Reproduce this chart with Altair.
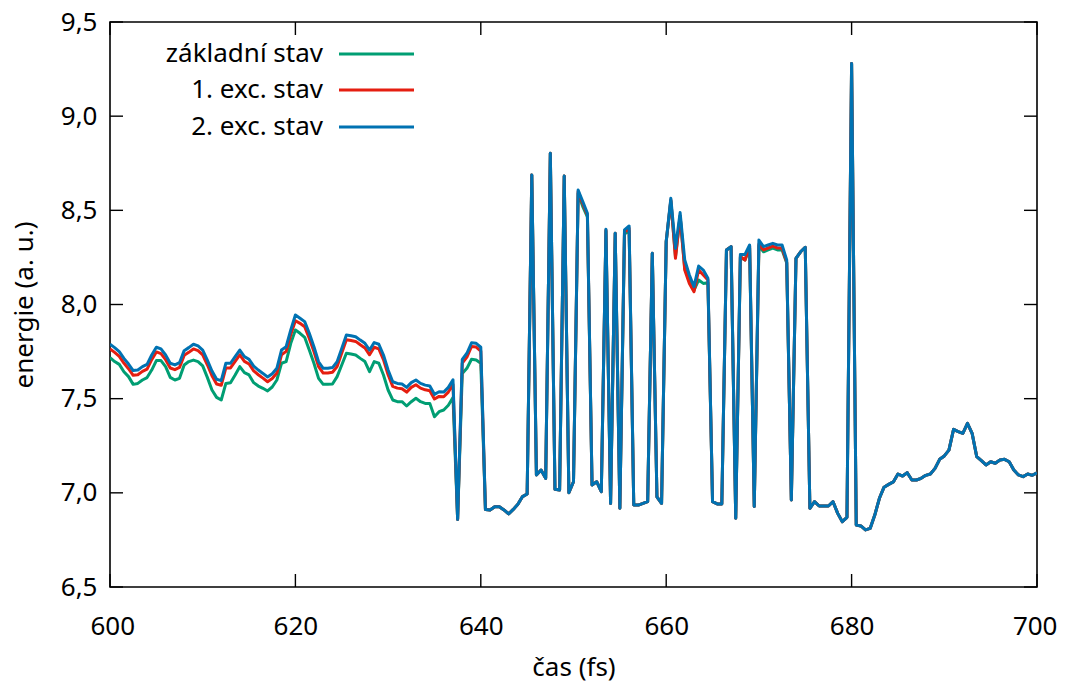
import numpy as np
import pandas as pd
import altair as alt

# time axis: 600 .. 700 fs, step 0.5 fs
times = [600 + 0.5 * i for i in range(201)]

# 2. exc. stav (blue)
blue = [
    7.789, 7.771, 7.750, 7.714, 7.684, 7.649, 7.652, 7.670, 7.682, 7.732,  # 600-604.5
    7.773, 7.764, 7.732, 7.688, 7.679, 7.691, 7.755, 7.771, 7.789, 7.780,  # 605-609.5
    7.758, 7.705, 7.647, 7.603, 7.596, 7.688, 7.688, 7.723, 7.758, 7.723,  # 610-614.5
    7.709, 7.673, 7.652, 7.634, 7.615, 7.632, 7.661, 7.758, 7.776, 7.865,  # 615-619.5
    7.944, 7.927, 7.909, 7.847, 7.776, 7.696, 7.661, 7.661, 7.665, 7.696,  # 620-624.5
    7.767, 7.838, 7.834, 7.829, 7.811, 7.794, 7.758, 7.798, 7.789, 7.732,  # 625-629.5
    7.652, 7.590, 7.581, 7.578, 7.560, 7.585, 7.599, 7.581, 7.572, 7.567,  # 630-634.5
    7.523, 7.537, 7.535, 7.560, 7.600, 6.859, 7.709, 7.741, 7.797, 7.794,  # 635-639.5
    7.773, 6.912, 6.909, 6.926, 6.926, 6.909, 6.888, 6.912, 6.939, 6.980,  # 640-644.5
    6.994, 8.688, 7.095, 7.121, 7.077, 8.803, 7.019, 7.015, 8.682, 7.001,  # 645-649.5
    7.059, 8.608, 8.546, 8.484, 7.042, 7.059, 7.006, 8.399, 6.944, 8.378,  # 650-654.5
    6.918, 8.396, 8.417, 6.935, 6.935, 6.944, 6.953, 8.272, 6.979, 6.944,  # 655-659.5
    8.334, 8.564, 8.298, 8.488, 8.236, 8.157, 8.095, 8.204, 8.183, 8.139,  # 660-664.5
    6.953, 6.941, 6.941, 8.289, 8.307, 6.865, 8.266, 8.266, 8.316, 6.927,  # 665-669.5
    8.342, 8.307, 8.316, 8.325, 8.316, 8.316, 8.236, 6.962, 8.245, 8.280,  # 670-674.5
    8.304, 6.918, 6.953, 6.930, 6.930, 6.930, 6.953, 6.891, 6.847, 6.870,  # 675-679.5
    9.280, 6.829, 6.824, 6.803, 6.811, 6.882, 6.971, 7.030, 7.045, 7.058,  # 680-684.5
    7.100, 7.089, 7.107, 7.068, 7.068, 7.077, 7.093, 7.100, 7.130, 7.178,  # 685-689.5
    7.196, 7.227, 7.337, 7.325, 7.316, 7.369, 7.316, 7.192, 7.171, 7.148,  # 690-694.5
    7.165, 7.157, 7.174, 7.178, 7.165, 7.121, 7.095, 7.086, 7.100, 7.093,  # 695-699.5
    7.107,                                                                 # 700
]

# 1. exc. stav (red), 600 .. 640 fs
red_early = [
    7.764, 7.746, 7.725, 7.689, 7.659, 7.624, 7.627, 7.645, 7.657, 7.707,
    7.748, 7.739, 7.707, 7.663, 7.654, 7.666, 7.730, 7.746, 7.764, 7.755,
    7.733, 7.680, 7.622, 7.578, 7.571, 7.663, 7.663, 7.698, 7.733, 7.698,
    7.684, 7.648, 7.627, 7.609, 7.590, 7.607, 7.636, 7.733, 7.751, 7.840,
    7.914, 7.900, 7.882, 7.820, 7.750, 7.670, 7.636, 7.636, 7.640, 7.671,
    7.742, 7.813, 7.809, 7.804, 7.786, 7.769, 7.733, 7.773, 7.764, 7.707,
    7.627, 7.565, 7.556, 7.553, 7.535, 7.560, 7.574, 7.556, 7.547, 7.542,
    7.498, 7.512, 7.510, 7.535, 7.575, 6.859, 7.689, 7.721, 7.777, 7.774,
    7.753,
]

# základní stav (green), 600 .. 640 fs
green_early = [
    7.718, 7.697, 7.682, 7.643, 7.617, 7.576, 7.581, 7.599, 7.612, 7.652,
    7.702, 7.702, 7.670, 7.613, 7.599, 7.608, 7.679, 7.697, 7.705, 7.697,
    7.674, 7.613, 7.546, 7.507, 7.493, 7.581, 7.585, 7.626, 7.670, 7.638,
    7.626, 7.585, 7.567, 7.555, 7.541, 7.562, 7.599, 7.688, 7.697, 7.794,
    7.865, 7.847, 7.826, 7.758, 7.688, 7.608, 7.576, 7.576, 7.578, 7.617,
    7.679, 7.741, 7.737, 7.732, 7.714, 7.697, 7.643, 7.697, 7.688, 7.626,
    7.546, 7.493, 7.484, 7.484, 7.461, 7.484, 7.502, 7.484, 7.475, 7.475,
    7.404, 7.431, 7.440, 7.465, 7.506, 6.859, 7.634, 7.661, 7.709, 7.705,
    7.688,
]

# after 640 fs the three states nearly coincide; points where they visibly differ
red_late_diff = {
    650.5: 8.600, 651.0: 8.535, 651.5: 8.475, 653.5: 8.395, 655.5: 8.385, 656.0: 8.405,
    660.5: 8.555, 661.0: 8.245, 661.5: 8.470, 662.0: 8.183, 662.5: 8.112, 663.0: 8.068,
    663.5: 8.183, 664.0: 8.157, 664.5: 8.130, 668.0: 8.255, 668.5: 8.236, 669.0: 8.310,
    670.0: 8.320, 670.5: 8.290, 671.0: 8.300, 671.5: 8.310, 672.0: 8.300, 672.5: 8.300,
    673.0: 8.225,
}
green_late_diff = {
    650.5: 8.590, 651.0: 8.520, 651.5: 8.465, 653.5: 8.390, 655.5: 8.375, 656.0: 8.390,
    660.5: 8.550, 661.0: 8.254, 661.5: 8.470, 662.0: 8.190, 662.5: 8.130, 663.0: 8.077,
    663.5: 8.130, 664.0: 8.112, 664.5: 8.115, 668.0: 8.250, 668.5: 8.236, 669.0: 8.300,
    670.0: 8.310, 670.5: 8.280, 671.0: 8.290, 671.5: 8.300, 672.0: 8.290, 672.5: 8.290,
    673.0: 8.220,
}

n_early = len(red_early)
red = red_early + [red_late_diff.get(t, b) for t, b in zip(times[n_early:], blue[n_early:])]
green = green_early + [green_late_diff.get(t, b) for t, b in zip(times[n_early:], blue[n_early:])]

series_names = ["základní stav", "1. exc. stav", "2. exc. stav"]
series_colors = ["#009e73", "#e51e10", "#0072b2"]
series_values = [green, red, blue]

x_ticks = [600, 620, 640, 660, 680, 700]
y_ticks = [6.5, 7.0, 7.5, 8.0, 8.5, 9.0, 9.5]

W, H = 927, 565
FONT = "Noto Sans"
FS = 26
LW = 3.0

xscale = alt.Scale(domain=[600, 700], nice=False, zero=False)
yscale = alt.Scale(domain=[6.5, 9.5], nice=False, zero=False)

x_axis = alt.Axis(values=x_ticks, ticks=False, domain=False, grid=False,
                  labelFlush=True, labelFlushOffset=20,
                  labelFont=FONT, labelFontSize=FS, labelColor="black",
                  labelPadding=26, titleFont=FONT, titleFontSize=FS,
                  titleFontWeight="normal", titleColor="black", titlePadding=15)
y_axis = alt.Axis(values=y_ticks, ticks=False, domain=False, grid=False, labelFlush=False,
                  labelFont=FONT, labelFontSize=FS, labelColor="black",
                  labelPadding=13,
                  labelExpr="replace(format(datum.value, '.1f'), '.', ',')",
                  titleFont=FONT, titleFontSize=FS, titleFontWeight="normal",
                  titleColor="black", titlePadding=23)

def xenc():
    return alt.X("t:Q", scale=xscale, title="čas (fs)", axis=x_axis)

def yenc():
    return alt.Y("e:Q", scale=yscale, title="energie (a. u.)", axis=y_axis)

layers = []
for name, col, vals in zip(series_names, series_colors, series_values):
    df = pd.DataFrame({"t": times, "e": vals})
    layers.append(
        alt.Chart(df).mark_line(color=col, strokeWidth=LW, strokeJoin="round", clip=True)
        .encode(x=xenc(), y=yenc())
    )

# inside ticks on all four sides (gnuplot style)
xt = pd.DataFrame({"t": x_ticks})
yt = pd.DataFrame({"e": y_ticks})
tick_len = 13
layers.append(alt.Chart(xt).mark_rule(color="black", strokeWidth=1.4).encode(
    x=xenc(), y=alt.value(H), y2=alt.value(H - tick_len)))
layers.append(alt.Chart(xt).mark_rule(color="black", strokeWidth=1.4).encode(
    x=xenc(), y=alt.value(0), y2=alt.value(tick_len)))
layers.append(alt.Chart(yt).mark_rule(color="black", strokeWidth=1.4).encode(
    y=yenc(), x=alt.value(0), x2=alt.value(tick_len)))
layers.append(alt.Chart(yt).mark_rule(color="black", strokeWidth=1.4).encode(
    y=yenc(), x=alt.value(W), x2=alt.value(W - tick_len)))

# key (top left, labels right-aligned before the line samples)
row_y = [32, 68, 105]
for name, col, yy in zip(series_names, series_colors, row_y):
    ldf = pd.DataFrame({"label": [name]})
    layers.append(alt.Chart(ldf).mark_text(align="right", baseline="middle", font=FONT,
                                           fontSize=FS, color="black").encode(
        text="label:N", x=alt.value(213), y=alt.value(yy)))
    layers.append(alt.Chart(ldf).mark_rule(color=col, strokeWidth=LW).encode(
        x=alt.value(229), x2=alt.value(304), y=alt.value(yy)))

chart = alt.layer(*layers).properties(
    width=W, height=H,
    background="white",
    autosize=alt.AutoSizeParams(type="none"),
    padding={"left": 102, "top": 14, "right": 20, "bottom": 96},
).configure_view(stroke="black", strokeWidth=1.6)

chart.save("out.html", embed_options={"renderer": "svg", "actions": False})
